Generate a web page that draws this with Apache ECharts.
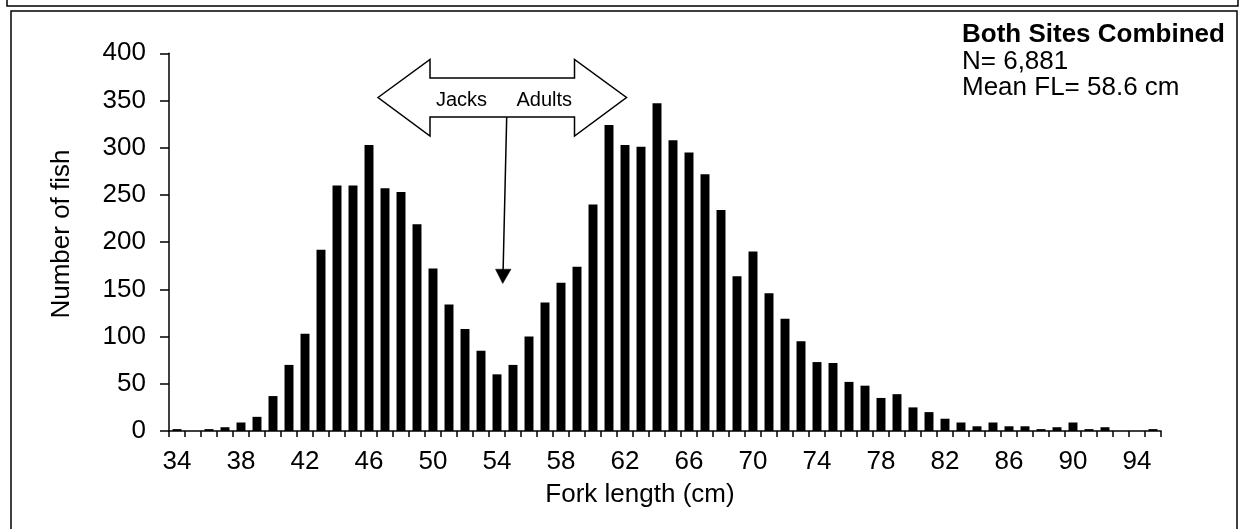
<!DOCTYPE html>
<html>
<head>
<meta charset="utf-8">
<title>Fork length distribution — both sites combined</title>
<script src="https://cdn.jsdelivr.net/npm/echarts@6/dist/echarts.min.js"></script>
<style>
  html, body { margin: 0; padding: 0; background: #fff; }
  #chart { width: 1241px; height: 529px; }
</style>
</head>
<body>
<div id="chart"></div>
<script>
// Fork length classes (cm), one bar per class
const forkLengthCm = ['34','35','36','37','38','39','40','41','42','43',
  '44','45','46','47','48','49','50','51','52','53',
  '54','55','56','57','58','59','60','61','62','63',
  '64','65','66','67','68','69','70','71','72','73',
  '74','75','76','77','78','79','80','81','82','83',
  '84','85','86','87','88','89','90','91','92','93',
  '94','95'];

// Number of fish measured in each class
const fishCounts = [2, 0, 2, 4, 9, 15, 37, 70, 103, 192,
  260, 260, 303, 257, 253, 219, 172, 134, 108, 85,
  60, 70, 100, 136, 157, 174, 240, 324, 303, 301,
  347, 308, 295, 272, 234, 164, 190, 146, 119, 95,
  73, 72, 52, 48, 35, 39, 25, 20, 13, 9,
  5, 9, 5, 5, 2, 4, 9, 2, 4, 0,
  0, 2];

// Labelled ticks on each axis
const xTickLabels = ['34','38','42','46','50','54','58','62','66','70','74','78','82','86','90','94'];
const yTickValues = [0, 50, 100, 150, 200, 250, 300, 350, 400];

// Summary text block
const panelTitle = 'Both Sites Combined';
const panelLines = ['N= 6,881', 'Mean FL= 58.6 cm'];

const FONT = '"Liberation Sans", Arial, sans-serif';
const FS = 26;
const chart = echarts.init(document.getElementById('chart'), null, { renderer: 'canvas' });

const option = {
  backgroundColor: '#fff',
  animation: false,
  textStyle: { fontFamily: FONT, color: '#000' },
  grid: { left: 169, right: 80, top: 53.3, bottom: 98 },
  xAxis: {
    type: 'category',
    data: forkLengthCm,
    boundaryGap: true,
    axisLine: { lineStyle: { color: '#000', width: 1.5 } },
    axisTick: { show: true, interval: 0, length: 6, lineStyle: { color: '#000', width: 1.5 } },
    axisLabel: {
      interval: (i, v) => xTickLabels.indexOf(v) >= 0,
      margin: 18,
      fontSize: FS,
      fontFamily: FONT,
      color: '#000'
    },
    splitLine: { show: false }
  },
  yAxis: {
    type: 'value',
    min: yTickValues[0],
    max: yTickValues[yTickValues.length - 1],
    interval: yTickValues[1] - yTickValues[0],
    axisLine: { show: true, lineStyle: { color: '#000', width: 1.5 } },
    axisTick: { show: true, length: 9, lineStyle: { color: '#000', width: 1.5 } },
    axisLabel: { margin: 23, fontSize: FS, fontFamily: FONT, color: '#000' },
    splitLine: { show: false }
  },
  series: [{
    type: 'bar',
    data: fishCounts,
    barWidth: '56%',
    itemStyle: { color: '#000' }
  }],
  graphic: [
    // panel frames
    { type: 'rect', shape: { x: 7, y: -20, width: 1231, height: 26 },
      style: { fill: 'none', stroke: '#000', lineWidth: 1.5 }, silent: true },
    { type: 'rect', shape: { x: 11, y: 11, width: 1226, height: 600 },
      style: { fill: 'none', stroke: '#000', lineWidth: 1.5 }, silent: true },
    // axis titles
    { type: 'text', x: 62, y: 234, rotation: Math.PI / 2,
      style: { text: 'Number of fish', font: FS + 'px ' + FONT, fill: '#000', align: 'center', verticalAlign: 'middle' } },
    { type: 'text', x: 640, y: 495,
      style: { text: 'Fork length (cm)', font: FS + 'px ' + FONT, fill: '#000', align: 'center', verticalAlign: 'middle' } },
    // summary block
    { type: 'text', x: 962, y: 35,
      style: { text: panelTitle, font: 'bold ' + FS + 'px ' + FONT, fill: '#000', align: 'left', verticalAlign: 'middle' } },
    { type: 'text', x: 962, y: 61.5,
      style: { text: panelLines[0], font: FS + 'px ' + FONT, fill: '#000', align: 'left', verticalAlign: 'middle' } },
    { type: 'text', x: 962, y: 88,
      style: { text: panelLines[1], font: FS + 'px ' + FONT, fill: '#000', align: 'left', verticalAlign: 'middle' } },
    // Jacks / Adults double-headed block arrow
    { type: 'polygon',
      shape: { points: [[378, 97.5], [430, 59.5], [430, 78], [574.5, 78], [574.5, 59.5],
                        [626.5, 97.5], [574.5, 136], [574.5, 117], [430, 117], [430, 136]] },
      style: { fill: '#fff', stroke: '#000', lineWidth: 1.5 }, z: 10 },
    { type: 'text', x: 436, y: 100.5, z: 11,
      style: { text: 'Jacks', font: '20px ' + FONT, fill: '#000', align: 'left', verticalAlign: 'middle' } },
    { type: 'text', x: 516.5, y: 100.5, z: 11,
      style: { text: 'Adults', font: '20px ' + FONT, fill: '#000', align: 'left', verticalAlign: 'middle' } },
    // pointer to the split between the two modes
    { type: 'line', shape: { x1: 506.7, y1: 117, x2: 503.1, y2: 271 },
      style: { stroke: '#000', lineWidth: 1.5 }, z: 10 },
    { type: 'polygon', shape: { points: [[502.7, 283.5], [495.5, 269.2], [511, 269.2]] },
      style: { fill: '#000', stroke: '#000', lineWidth: 0.5 }, z: 10 }
  ]
};

chart.setOption(option);
</script>
</body>
</html>
